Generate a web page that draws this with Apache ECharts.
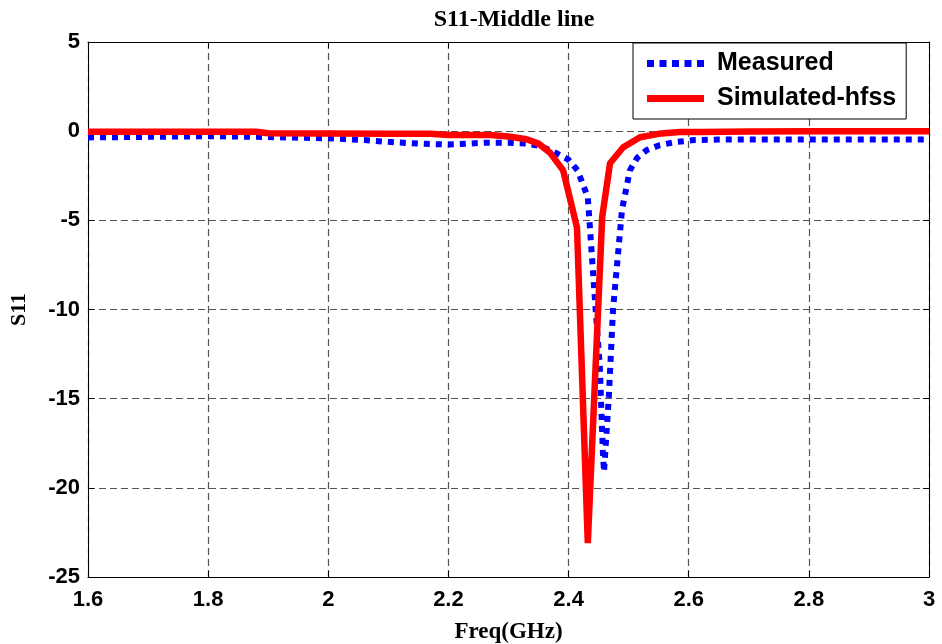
<!DOCTYPE html>
<html>
<head>
<meta charset="utf-8">
<script src="https://cdn.jsdelivr.net/npm/echarts@6/dist/echarts.min.js"></script>
<style>
html,body{margin:0;padding:0;background:#fff;}
#chart{width:942px;height:644px;}
</style>
</head>
<body>
<div id="chart"></div>
<script>
// Frequency (GHz) / S11 (dB)
var measuredFreq = [1.6, 1.7, 1.8, 1.9, 2.0, 2.06, 2.1, 2.15, 2.2, 2.26, 2.3, 2.33, 2.35, 2.37, 2.40, 2.415, 2.432, 2.444, 2.452, 2.457, 2.459, 2.467, 2.474, 2.489, 2.502, 2.514, 2.53, 2.552, 2.58, 2.61, 2.65, 2.7, 2.8, 2.9, 3.0];
var measuredS11 = [-0.35, -0.32, -0.28, -0.33, -0.4, -0.5, -0.6, -0.7, -0.75, -0.65, -0.65, -0.7, -0.82, -1.06, -1.6, -2.2, -3.7, -9.5, -13.2, -17.9, -19.1, -14.9, -10, -4.4, -2.2, -1.5, -1.06, -0.78, -0.6, -0.5, -0.47, -0.47, -0.47, -0.47, -0.47];

var simFreq = [1.6, 1.7, 1.8, 1.88, 1.9, 2.0, 2.1, 2.17, 2.2, 2.27, 2.3, 2.33, 2.35, 2.369, 2.391, 2.414, 2.432, 2.456, 2.469, 2.491, 2.519, 2.55, 2.585, 2.62, 2.7, 2.8, 2.9, 3.0];
var simS11 = [-0.03, -0.03, -0.03, -0.03, -0.12, -0.13, -0.14, -0.15, -0.22, -0.22, -0.3, -0.45, -0.7, -1.2, -2.2, -5.4, -23.1, -4.8, -1.8, -0.9, -0.34, -0.15, -0.05, -0.04, -0.02, 0, 0, 0];

var seriesNames = ['Measured', 'Simulated-hfss'];
var chartTitle = 'S11-Middle line';
var xName = 'Freq(GHz)';
var yName = 'S11';

function pairs(xs, ys) { return xs.map(function (x, i) { return [x, ys[i]]; }); }

var chart = echarts.init(document.getElementById('chart'), null, { renderer: 'canvas' });
var tickFont = { fontFamily: 'Arial, "Liberation Sans", sans-serif', fontWeight: 'bold', fontSize: 22, color: '#000' };
var gridLine = { show: true, lineStyle: { color: '#555', width: 1.2, type: [7, 4] } };
var dottedIcon = 'path://M0,0h7v7h-7z M12.5,0h7v7h-7z M25,0h7v7h-7z M37.5,0h7v7h-7z M50,0h7v7h-7z';
var solidIcon = 'path://M0,0h57v7h-57z';

chart.setOption({
  backgroundColor: '#fff',
  animation: false,
  title: {
    text: chartTitle, left: 509, top: 3, textAlign: 'center',
    textStyle: { fontFamily: '"Liberation Serif", "Times New Roman", serif', fontWeight: 'bold', fontSize: 24, color: '#000' }
  },
  grid: { left: 88, right: 13, top: 42, bottom: 67, containLabel: false, outerBoundsMode: 'none' },
  legend: {
    orient: 'vertical', left: 633, top: 43,
    backgroundColor: '#fff', borderColor: '#000', borderWidth: 1,
    padding: [8, 10, 8, 14], itemGap: 10, itemWidth: 57, itemHeight: 14,
    textStyle: { fontFamily: 'Arial, "Liberation Sans", sans-serif', fontWeight: 'bold', fontSize: 25, color: '#000', padding: [0, 0, 0, 8] },
    data: [
      { name: seriesNames[0], icon: dottedIcon, itemStyle: { color: '#0000ff' } },
      { name: seriesNames[1], icon: solidIcon, itemStyle: { color: '#ff0000' } }
    ]
  },
  xAxis: [{
    type: 'value', min: 1.6, max: 3, interval: 0.2,
    name: xName, nameLocation: 'middle', nameGap: 44,
    nameTextStyle: { fontFamily: '"Liberation Serif", "Times New Roman", serif', fontWeight: 'bold', fontSize: 23, color: '#000' },
    axisLine: { show: true, onZero: false, lineStyle: { color: '#000', width: 1 } },
    axisTick: { show: true, inside: true, length: 6, lineStyle: { color: '#000' } },
    axisLabel: Object.assign({ margin: 12, formatter: function (v) { return String(Number(v.toFixed(1))); } }, tickFont),
    splitLine: gridLine
  }, {
    type: 'value', position: 'top', min: 1.6, max: 3, interval: 0.2,
    axisLine: { show: true, onZero: false, lineStyle: { color: '#000', width: 1 } },
    axisTick: { show: true, inside: true, length: 6, lineStyle: { color: '#000' } },
    axisLabel: { show: false }, splitLine: { show: false }
  }],
  yAxis: [{
    type: 'value', min: -25, max: 5, interval: 5,
    name: yName, nameLocation: 'middle', nameGap: 58, nameRotate: 90,
    nameTextStyle: { fontFamily: '"Liberation Serif", "Times New Roman", serif', fontWeight: 'bold', fontSize: 22, color: '#000' },
    axisLine: { show: true, onZero: false, lineStyle: { color: '#000', width: 1 } },
    axisTick: { show: true, inside: true, length: 6, lineStyle: { color: '#000' } },
    axisLabel: Object.assign({ margin: 8 }, tickFont),
    splitLine: gridLine
  }, {
    type: 'value', position: 'right', min: -25, max: 5, interval: 5,
    axisLine: { show: true, onZero: false, lineStyle: { color: '#000', width: 1 } },
    axisTick: { show: true, inside: true, length: 6, lineStyle: { color: '#000' } },
    axisLabel: { show: false }, splitLine: { show: false }
  }],
  series: [{
    name: seriesNames[0], type: 'line', data: pairs(measuredFreq, measuredS11),
    symbol: 'none', smooth: false, z: 2,
    lineStyle: { color: '#0000ff', width: 6, type: [6, 6], cap: 'butt' },
    itemStyle: { color: '#0000ff' }
  }, {
    name: seriesNames[1], type: 'line', data: pairs(simFreq, simS11),
    symbol: 'none', smooth: false, z: 3,
    lineStyle: { color: '#ff0000', width: 6.5, type: 'solid' },
    itemStyle: { color: '#ff0000' }
  }]
});
</script>
</body>
</html>
